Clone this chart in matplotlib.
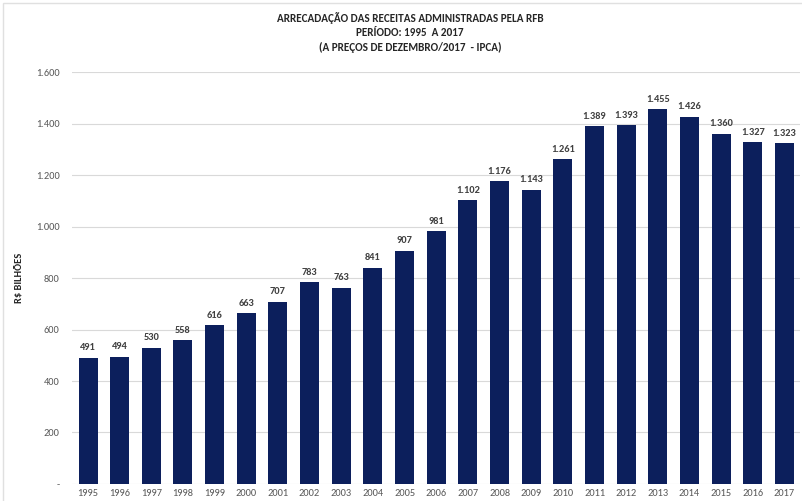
import matplotlib
matplotlib.use('Agg')
import matplotlib.pyplot as plt
from matplotlib.ticker import FuncFormatter
from matplotlib.patches import Rectangle

anos = [str(a) for a in range(1995, 2018)]
valores = [491, 494, 530, 558, 616, 663, 707, 783, 763, 841, 907, 981,
           1102, 1176, 1143, 1261, 1389, 1393, 1455, 1426, 1360, 1327, 1323]

plt.rcParams['font.family'] = ['Carlito', 'DejaVu Sans']

def fmt(v):
    if v == 0:
        return '-'
    return f'{int(v):,}'.replace(',', '.')

fig = plt.figure(figsize=(8.02, 5.01), dpi=100)
# thin frame around the picture, as in the screenshot
fig.patches.append(Rectangle((0.004, -0.01), 1.1, 1.004, transform=fig.transFigure,
                             fill=False, edgecolor='#e0e0e0', linewidth=1))
ax = fig.add_axes([0.09, 0.034, 0.908, 0.822])

x = range(len(anos))
ax.bar(x, valores, width=0.6, color='#0c1f5c', zorder=3)
for xi, v in zip(x, valores):
    ax.text(xi, v + 22, fmt(v), ha='center', va='bottom', fontsize=7.5,
            fontweight='bold', color='#404040')

ax.set_xlim(-0.5, len(anos) - 0.5)
ax.set_ylim(0, 1600)
ax.set_yticks(range(0, 1601, 200))
ax.yaxis.set_major_formatter(FuncFormatter(lambda v, p: fmt(v)))
ax.set_xticks(list(x))
ax.set_xticklabels(anos)
ax.tick_params(length=0, labelsize=7.5, colors='#595959')
ax.tick_params(axis='y', pad=9)
ax.grid(axis='y', color='#d9d9d9', linewidth=0.8, zorder=0)
for s in ax.spines.values():
    s.set_visible(False)

ax.set_ylabel('R$ BILHÕES', fontsize=7.5, fontweight='bold', color='#262626', labelpad=8)

fig.text(0.511, 0.965, 'ARRECADAÇÃO DAS RECEITAS ADMINISTRADAS PELA RFB',
         ha='center', va='center', fontsize=8, fontweight='bold', color='#262626')
fig.text(0.511, 0.935, 'PERÍODO: 1995  A 2017',
         ha='center', va='center', fontsize=8, fontweight='bold', color='#262626')
fig.text(0.511, 0.906, '(A PREÇOS DE DEZEMBRO/2017  - IPCA)',
         ha='center', va='center', fontsize=8, fontweight='bold', color='#262626')

fig.savefig('out.png', dpi=100)
